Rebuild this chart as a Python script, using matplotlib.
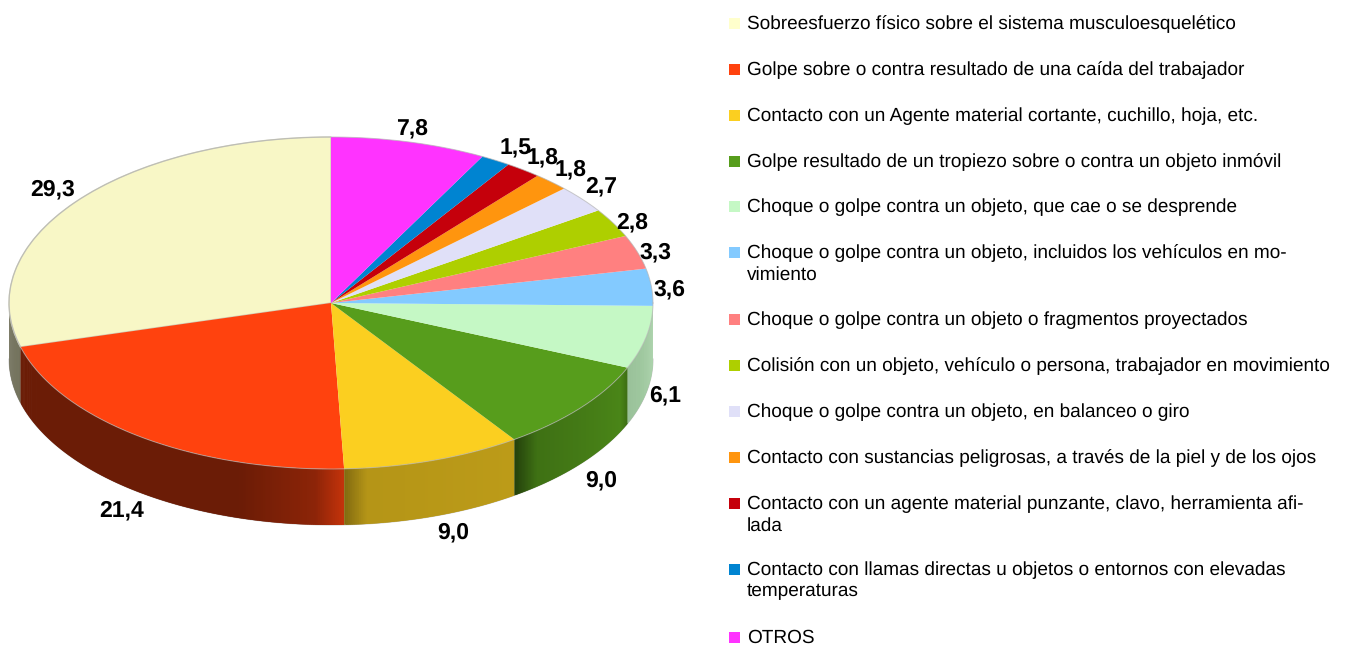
import numpy as np
import matplotlib
matplotlib.use('AGG')
import matplotlib.pyplot as plt
from matplotlib.collections import PolyCollection
from matplotlib.patches import Rectangle

plt.rcParams['font.family'] = ['Liberation Sans', 'DejaVu Sans']
plt.rcParams['text.hinting'] = 'no_hinting'
plt.rcParams['text.hinting_factor'] = 1

categories = [
    'Sobreesfuerzo físico sobre el sistema musculoesquelético',
    'Golpe sobre o contra resultado de una caída del trabajador',
    'Contacto con un Agente material cortante, cuchillo, hoja, etc.',
    'Golpe resultado de un tropiezo sobre o contra un objeto inmóvil',
    'Choque o golpe contra un objeto, que cae o se desprende',
    'Choque o golpe contra un objeto, incluidos los vehículos en mo-\nvimiento',
    'Choque o golpe contra un objeto o fragmentos proyectados',
    'Colisión con un objeto, vehículo o persona, trabajador en movimiento',
    'Choque o golpe contra un objeto, en balanceo o giro',
    'Contacto con sustancias peligrosas, a través de la piel y de los ojos',
    'Contacto con un agente material punzante, clavo, herramienta afi-\nlada',
    'Contacto con llamas directas u objetos o entornos con elevadas\ntemperaturas',
    'OTROS',
]
values = [29.3, 21.4, 9.0, 9.0, 6.1, 3.6, 3.3, 2.8, 2.7, 1.8, 1.8, 1.5, 7.8]
value_labels = ['29,3', '21,4', '9,0', '9,0', '6,1', '3,6', '3,3', '2,8', '2,7', '1,8', '1,8', '1,5', '7,8']
colors = ['#F8F7C6', '#FF420E', '#FBCF20', '#579D1C', '#C5F8C5', '#83CAFF', '#FF8080',
          '#AECF00', '#E0E0F8', '#FF950E', '#C5000B', '#0084D1', '#FF33FF']
legend_colors = ['#FFFFCC'] + colors[1:]

# layout, in pixels of the 1345x647 picture
W, H = 1345, 647
CX, CY, RX, RY, DEPTH = 331, 303, 322, 166, 56
label_offsets = [(-22, -13), (-19, 73), (20, 72), (20, 73), (19, 58), (18, 2), (18, 0),
                 (19, 0), (19, -13), (19, -12), (19, -12), (20, -12), (3, -13)]
legend_rows = [23, 69, 115, 161, 206, 252, 319, 365, 411, 457, 503, 569, 637]
# brightness of the side wall along each slice (start of slice -> end of slice)
wall_shades = {
    0: [(0, 0.45), (1, 0.45)],
    1: [(0, 0.42), (0.75, 0.42), (0.93, 0.55), (1, 0.78)],
    2: [(0, 0.52), (0.12, 0.72), (1, 0.75)],
    3: [(0, 0.42), (0.15, 0.72), (0.9, 0.85), (1, 0.68)],
    4: [(0, 0.78), (1, 0.85)],
}

fig = plt.figure(figsize=(W / 100, H / 100), dpi=100)

# pie axes span the top ellipse exactly, so -1..1 on each axis is the radius
pie_ax = fig.add_axes([(CX - RX) / W, (H - CY - RY) / H, 2 * RX / W, 2 * RY / H])
wedges, _ = pie_ax.pie(values, colors=colors, startangle=90, counterclock=True, radius=1,
                       wedgeprops={'linewidth': 0})
pie_ax.set_aspect('auto')
pie_ax.set_xlim(-1, 1)
pie_ax.set_ylim(-1, 1)
for wedge in wedges:
    wedge.set_zorder(3)
    wedge.set_clip_on(False)
wedges[0].set_edgecolor('#CFCFBA')
wedges[0].set_linewidth(1)

depth = DEPTH / RY
fractions = np.array(values) / sum(values)
ends = 90 + 360 * np.cumsum(fractions)
starts = ends - 360 * fractions

# side wall: overlapping quads below the front half of the ellipse, so no seams show
for i, (a, b) in enumerate(zip(starts, ends)):
    lo, hi = max(a, 180), min(b, 360)
    if hi <= lo or i not in wall_shades:
        continue
    thetas = np.linspace(lo, hi, int((hi - lo) * 3) + 2)
    stops = np.array(wall_shades[i])
    base = np.array(matplotlib.colors.to_rgb(colors[i]))
    quads, face = [], []
    for j, t0 in enumerate(thetas[:-1]):
        t1 = thetas[min(j + 2, len(thetas) - 1)]
        x0, y0 = np.cos(np.radians(t0)), np.sin(np.radians(t0))
        x1, y1 = np.cos(np.radians(t1)), np.sin(np.radians(t1))
        quads.append([(x0, y0), (x1, y1), (x1, y1 - depth), (x0, y0 - depth)])
        shade = np.interp((t0 - a) / (b - a), stops[:, 0], stops[:, 1])
        face.append(base * shade)
    wall = PolyCollection(quads, facecolors=face, edgecolors='none', zorder=2)
    wall.set_clip_on(False)
    pie_ax.add_collection(wall)

# thin grey rim round the top and bottom
rim = np.radians(np.linspace(0, 360, 721))
pie_ax.plot(np.cos(rim), np.sin(rim), color='#B4B4B4', lw=0.7, alpha=0.7, zorder=4, clip_on=False)
low = np.radians(np.linspace(180, 360, 361))
pie_ax.plot(np.cos(low), np.sin(low) - depth, color='#C8C8C8', lw=0.7, zorder=1, clip_on=False)

# value labels placed from each slice's mid angle
for i, (label, off) in enumerate(zip(value_labels, label_offsets)):
    mid = np.radians((starts[i] + ends[i]) / 2)
    pie_ax.annotate(label, (np.cos(mid), np.sin(mid)), xytext=(off[0], -off[1]),
                    textcoords='offset pixels', ha='center', va='center',
                    fontsize=16.6, fontweight='bold', color='black',
                    annotation_clip=False, zorder=6)

# legend drawn by hand on a pixel overlay
overlay = fig.add_axes([0, 0, 1, 1], facecolor='none')
overlay.set_xlim(0, W)
overlay.set_ylim(H, 0)
overlay.axis('off')
for name, col, row in zip(categories, legend_colors, legend_rows):
    overlay.add_patch(Rectangle((729, row - 5.5), 11, 11, facecolor=col, edgecolor='none'))
    overlay.text(747, row - 8, name, fontsize=13.6, color='black', ha='left', va='top', linespacing=1.28)

fig.savefig('out.png', dpi=100)
plt.close(fig)
